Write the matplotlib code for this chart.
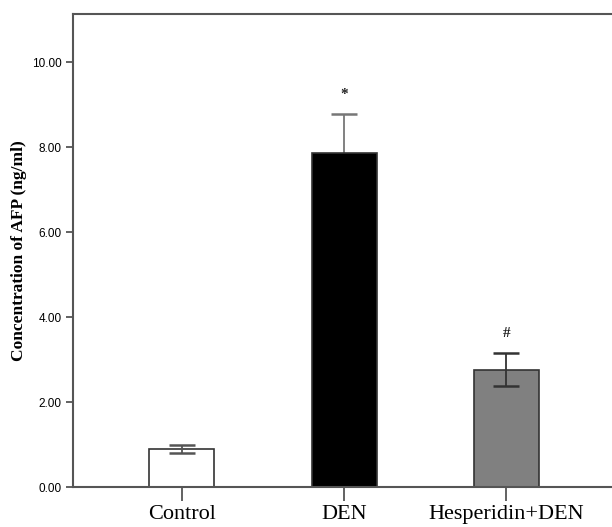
import matplotlib
matplotlib.use("Agg")
import matplotlib.pyplot as plt

# AFP concentration per group, mean and SD
groups = ["Control", "DEN", "Hesperidin+DEN"]
means = [0.89, 7.86, 2.76]
errs = [0.09, 0.92, 0.39]
marks = ["", "*", "#"]
colors = ["white", "black", "#808080"]
err_colors = ["#555555", "#777777", "#333333"]
yticks = [0, 2, 4, 6, 8, 10]

fig = plt.figure(figsize=(6.12, 5.27), dpi=100)
ax = fig.add_axes([0.119, 0.0759, 0.881, 0.8975])

x = list(range(len(groups)))
ax.bar(x, means, width=0.4, color=colors, edgecolor="#333333", linewidth=1.2, zorder=2)
for xi, m, e, c, fc in zip(x, means, errs, err_colors, colors):
    # on the black bar the lower half of the bar is hidden behind it
    z = 1 if fc == "black" else 3
    ax.errorbar(xi, m, yerr=e, fmt="none", ecolor=c, elinewidth=1.3,
                capsize=9.5, capthick=1.8, zorder=z)

for xi, m, e, s in zip(x, means, errs, marks):
    if s:
        ax.text(xi, m + e + 0.3, s, ha="center", va="bottom", fontsize=11,
                fontweight="bold", family="Liberation Serif", color="#222222")

ax.set_xlim(-0.67, 2.65)
ax.set_ylim(0, 11.13)
ax.set_yticks(yticks)
ax.set_yticklabels(["%.2f" % v for v in yticks], fontsize=8.5,
                   family=["Liberation Sans Narrow", "Liberation Sans"])
ax.set_xticks(x)
ax.set_xticklabels(groups, fontsize=16, family="Liberation Serif")
ax.tick_params(axis="y", direction="out", length=5, width=1.3, color="#555555", pad=3)
ax.tick_params(axis="x", direction="out", length=10, width=1.3, color="#555555", pad=3)

ax.set_ylabel("Concentration of AFP (ng/ml)", fontsize=12.5, fontweight="bold",
              family="Liberation Serif")
ax.yaxis.set_label_coords(-0.085, 0.5)

for side in ["left", "bottom", "top"]:
    ax.spines[side].set_color("#555555")
    ax.spines[side].set_linewidth(1.5)
ax.spines["right"].set_visible(False)

fig.savefig("out.png", dpi=100)
